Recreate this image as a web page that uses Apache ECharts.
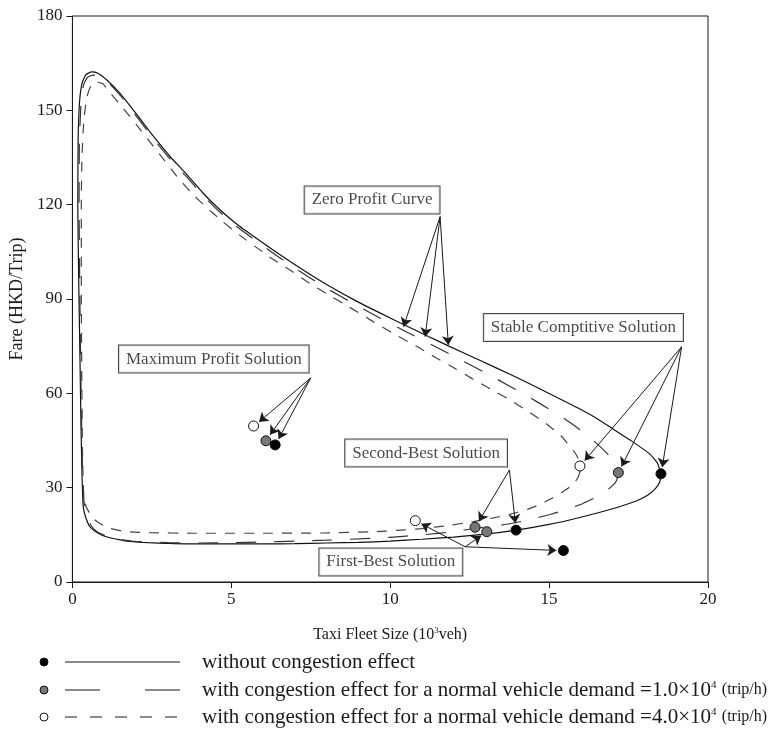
<!DOCTYPE html>
<html><head><meta charset="utf-8">
<script src="https://cdn.jsdelivr.net/npm/echarts@6/dist/echarts.min.js"></script>
<style>html,body{margin:0;padding:0;background:#fff}#c{width:771px;height:735px}</style>
</head><body><div id="c"></div>
<script>
// ---- data ----
const curveNoCongestion = [
[18.52,34.0],[18.48,31.8],[18.35,29.8],[18.1,27.6],[17.7,25.6],[17.0,23.3],[16.0,20.6],[15.0,18.3],[13.96,16.5],[13,15.2],[12,14.3],[11,13.6],[10,13.0],[9,12.6],[8,12.4],[7,12.2],[6,12.1],[5,12.1],[3.8,12.1],[3,12.3],[2.4,12.5],[1.9,12.8],[1.5,13.4],[1.07,14.4],[0.8,15.6],[0.55,17.6],[0.42,20.5],[0.34,24],[0.3,35],[0.27,50],[0.24,70],[0.2,95],[0.17,120],[0.18,140],[0.22,152],[0.3,158.5],[0.42,161.3],[0.6,162.2],[0.8,161.8],[1.1,159.5],[1.5,155.4],[2,149],[2.56,141.6],[3.1,135],[3.61,129.5],[4.1,123.8],[4.6,118.8],[5.2,113.6],[5.9,108.5],[6.5,104.3],[7.3,99.0],[8,94.6],[8.85,89.8],[9.69,85.5],[10.5,81.5],[11.2,78.1],[11.83,75.1],[12.8,70.6],[13.8,65.9],[14.72,61.4],[15.5,57.4],[15.97,55.0],[16.5,52.0],[17.02,48.6],[17.6,44.8],[18.18,40.6],[18.42,37.6],[18.52,34.0]
];
const curveDemand1 = [
[17.18,34.8],[17.12,32.2],[16.97,30.4],[16.6,27.6],[16.05,24.9],[15.5,22.9],[15,21.4],[14.5,20.1],[14,19.0],[13.5,18.1],[12.7,17.1],[12,16.0],[11,15.0],[10,14.2],[9.47,13.9],[8,13.3],[7,13.0],[6,12.7],[5,12.5],[4,12.4],[3,12.5],[2,12.9],[1.5,13.5],[1.07,14.6],[0.8,15.8],[0.6,17.8],[0.45,21],[0.37,25],[0.32,35],[0.29,50],[0.26,70],[0.23,95],[0.21,120],[0.22,140],[0.27,152],[0.35,158],[0.47,160.5],[0.65,161.2],[0.85,160.7],[1.15,158.6],[1.5,154.8],[2,148.3],[2.56,140.8],[3.1,134.2],[3.61,128.7],[4.1,123.0],[4.6,118.0],[5.2,112.8],[5.9,107.6],[6.5,103.3],[7.3,97.9],[8,93.4],[8.85,88.5],[9.69,83.9],[10.5,79.6],[11.2,76.0],[12.02,71.7],[13.22,65.3],[14.35,58.9],[15.0,55.0],[15.5,51.8],[16.05,47.8],[16.55,43.6],[16.95,39.5],[17.15,36.5],[17.18,34.8]
];
const curveDemand4 = [
[15.97,35],[15.92,33.5],[15.8,31.6],[15.6,29.8],[15.35,28.2],[15.03,26.3],[14.7,24.6],[14.32,23.1],[13.8,21.6],[13.25,20.4],[12.62,19.2],[11.78,17.9],[11,17.0],[10.2,16.4],[9.5,16.0],[8,15.6],[6,15.5],[3.8,15.5],[2.43,15.7],[1.7,16.0],[1.17,17.1],[0.85,18.7],[0.65,20.3],[0.45,23.5],[0.36,27],[0.32,40],[0.3,60],[0.28,90],[0.28,120],[0.3,135],[0.36,147],[0.45,154],[0.58,157.8],[0.75,159],[0.95,158.5],[1.14,156.2],[1.61,150.5],[2.03,145.2],[2.45,139.8],[2.87,134.4],[3.29,129],[3.71,124.1],[4.2,119.3],[4.73,114.6],[5.25,110.4],[5.78,106.5],[6.3,102.7],[6.88,99.0],[7.4,95.4],[7.98,91.8],[8.7,87.5],[9.4,83.2],[10.1,79],[10.86,74.8],[11.44,71.3],[12.04,67.9],[12.59,64.6],[13.17,61.3],[13.75,58.0],[14.32,54.4],[14.93,50.2],[15.37,46.5],[15.79,41.5],[15.95,38.5],[15.97,35]
];
// solution points: max profit, stable competitive, second-best, first-best
const pointsBlack = [[6.38,43.6],[18.52,34.4],[13.96,16.5],[15.45,10.0]];
const pointsGray  = [[6.09,44.9],[17.18,34.8],[12.67,17.4],[13.04,16.0]];
const pointsWhite = [[5.70,49.6],[15.97,36.9],[10.79,19.5]];
// annotation boxes (text, anchor)
const annotationTexts = ['Zero Profit Curve','Maximum Profit Solution','Stable Comptitive Solution','Second-Best Solution','First-Best Solution'];
const annotationAnchors = [[9.43,121.5],[4.45,70.9],[16.08,80.9],[11.13,41.0],[10.02,6.4]];
// arrows [from, to]
const arrows = [
 [[11.57,116.2],[10.42,81.2]],[[11.57,116.2],[11.1,78.0]],[[11.57,116.2],[11.83,75.4]],
 [[7.5,64.9],[5.87,50.9]],[[7.5,64.9],[6.22,46.8]],[[7.5,64.9],[6.49,45.5]],
 [[19.17,74.8],[16.12,38.6]],[[19.17,74.8],[17.28,36.7]],[[19.17,74.8],[18.56,36.5]],
 [[13.75,35.6],[12.79,19.3]],[[13.75,35.6],[13.94,18.7]],
 [[12.36,11.2],[10.98,18.5]],[[12.36,11.2],[12.86,14.7]],[[12.36,11.2],[15.23,10.05]]
];
const xTicks = {min:0,max:20,interval:5};
const yTicks = {min:0,max:180,interval:30};
const legendTexts = ['without congestion effect','with congestion effect for a normal vehicle demand =1.0\u00d710','with congestion effect for a normal vehicle demand =4.0\u00d710'];

// ---- chart ----
const FONT = '"Liberation Serif","DejaVu Serif",serif';
const INK = '#1a1a1a';
const chart = echarts.init(document.getElementById('c'), null, {renderer:'canvas'});

function curve(data, dash, color){
  return {type:'line', data:data, showSymbol:false, smooth:0.15, silent:true,
    lineStyle:{color:color, width:1.2, type:dash}, z:2};
}
function pts(data, fill){
  return {type:'scatter', data:data, symbol:'circle', symbolSize:10, silent:true, z:5,
    itemStyle:{color:fill, borderColor:'#111', borderWidth:1, opacity:1}};
}

const legendY = [662,690,717];
const legendG = [];
const fills = ['#000','#777','#fff'];
legendY.forEach((y,i)=>{
  legendG.push({type:'circle', shape:{cx:44, cy:y, r:4}, style:{fill:fills[i], stroke:'#111', lineWidth:1}});
});
legendG.push({type:'line', shape:{x1:65,y1:legendY[0],x2:180,y2:legendY[0]}, style:{stroke:INK, lineWidth:1.2}});
legendG.push({type:'line', shape:{x1:65,y1:legendY[1],x2:180,y2:legendY[1]}, style:{stroke:INK, lineWidth:1.2, lineDash:[35,45]}});
legendG.push({type:'line', shape:{x1:65,y1:legendY[2],x2:180,y2:legendY[2]}, style:{stroke:INK, lineWidth:1.2, lineDash:[12,13]}});
legendY.forEach((y,i)=>{
  const txt = i===0 ? legendTexts[0] : legendTexts[i] + '{sup|4} {small|(trip/h)}';
  legendG.push({type:'text', x:202, y:y, style:{text:txt, font:'21px '+FONT, fill:INK, verticalAlign:'middle',
    rich:{sup:{fontSize:11, fontFamily:FONT, verticalAlign:'top', padding:[0,0,9,0], fill:INK},
          small:{fontSize:16, fontFamily:FONT, fill:INK}}}});
});

const option = {
  animation:false,
  backgroundColor:'#fff',
  grid:{left:72, right:63, top:16, bottom:153, show:true, borderColor:INK, borderWidth:1, backgroundColor:'transparent'},
  xAxis:{type:'value', min:xTicks.min, max:xTicks.max, interval:xTicks.interval,
    name:'Taxi Fleet Size (10{sup|3}veh)', nameLocation:'middle', nameGap:44,
    nameTextStyle:{fontFamily:FONT, fontSize:16, color:INK, rich:{sup:{fontSize:9, fontFamily:FONT, verticalAlign:'top', padding:[0,0,8,0], color:INK}}},
    axisLine:{show:true, lineStyle:{color:INK, width:1}}, axisTick:{show:true, length:6, lineStyle:{color:INK}},
    axisLabel:{fontFamily:FONT, fontSize:17, color:INK, margin:9}, splitLine:{show:false}},
  yAxis:{type:'value', min:yTicks.min, max:yTicks.max, interval:yTicks.interval,
    name:'Fare (HKD/Trip)', nameLocation:'middle', nameGap:38,
    nameTextStyle:{fontFamily:FONT, fontSize:18, color:INK},
    axisLine:{show:true, lineStyle:{color:INK, width:1}}, axisTick:{show:true, length:6, lineStyle:{color:INK}},
    axisLabel:{fontFamily:FONT, fontSize:17, color:INK, margin:10}, splitLine:{show:false}},
  graphic:legendG,
  series:[
    curve(curveNoCongestion,'solid','#111'),
    curve(curveDemand1,[20,18],'#333'),
    curve(curveDemand4,[10,9],'#444'),
    {type:'scatter', symbolSize:0, silent:true, z:6,
     data:annotationTexts.map((t,i)=>({name:t, value:annotationAnchors[i]})),
     label:{show:true, position:'inside', formatter:'{b}', fontFamily:FONT, fontSize:17, color:INK,
       backgroundColor:'#fff', borderColor:INK, borderWidth:1, padding:[5,7]},
     markLine:{silent:true, symbol:['none','arrow'], symbolSize:9, animation:false,
       label:{show:false}, lineStyle:{color:INK, width:1, type:'solid'},
       data:arrows.map(a=>[{coord:a[0]},{coord:a[1]}])}},
    pts(pointsBlack,'#000'),
    pts(pointsGray,'#777'),
    pts(pointsWhite,'#fff')
  ]
};
chart.setOption(option);
</script></body></html>
